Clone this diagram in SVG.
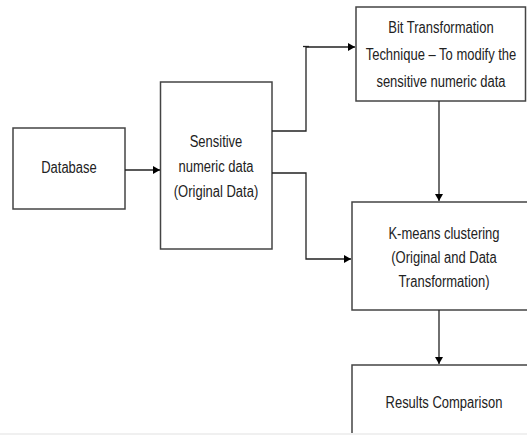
<svg xmlns="http://www.w3.org/2000/svg" width="527" height="435" viewBox="0 0 527 435">
<defs>
<marker id="ah" markerWidth="8" markerHeight="8" refX="7" refY="4" orient="auto" markerUnits="userSpaceOnUse">
<path d="M0,0 L7,4 L0,8 Z" fill="#000"/>
</marker>
</defs>
<style>
.box{fill:#fff;stroke:#444;stroke-width:1.5}
.t{font-family:"Liberation Sans",Arial,sans-serif;font-size:13px;fill:#222;text-anchor:middle}
.c{fill:none;stroke:#222;stroke-width:1.3}
</style>
<rect width="527" height="435" fill="#fff"/>
<g id="database">
<rect class="box" x="13" y="128" width="112" height="81"/>
<text class="t" x="69" y="173" transform="translate(0,173) scale(1,1.2) translate(0,-173)">Database</text>
</g>
<g id="sensitive">
<rect class="box" x="160.5" y="82" width="111.5" height="167"/>
<text class="t" x="216" y="147" transform="translate(0,147) scale(1,1.2) translate(0,-147)">Sensitive</text>
<text class="t" x="216" y="172" transform="translate(0,172) scale(1,1.2) translate(0,-172)">numeric data</text>
<text class="t" x="216" y="197" transform="translate(0,197) scale(1,1.2) translate(0,-197)">(Original Data)</text>
</g>
<g id="bit">
<rect class="box" x="356" y="7" width="169.5" height="94"/>
<text class="t" x="441" y="33" transform="translate(0,33) scale(1,1.2) translate(0,-33)">Bit Transformation</text>
<text class="t" x="441" y="60" transform="translate(0,60) scale(1,1.2) translate(0,-60)">Technique – To modify the</text>
<text class="t" x="441" y="87" transform="translate(0,87) scale(1,1.2) translate(0,-87)">sensitive numeric data</text>
</g>
<g id="kmeans">
<rect class="box" x="352" y="202" width="180" height="108"/>
<text class="t" x="444" y="239" transform="translate(0,239) scale(1,1.2) translate(0,-239)">K-means clustering</text>
<text class="t" x="444" y="263" transform="translate(0,263) scale(1,1.2) translate(0,-263)">(Original and Data</text>
<text class="t" x="444" y="287" transform="translate(0,287) scale(1,1.2) translate(0,-287)">Transformation)</text>
</g>
<g id="results">
<rect class="box" x="352" y="365" width="180" height="80"/>
<text class="t" x="444" y="408" transform="translate(0,408) scale(1,1.2) translate(0,-408)">Results Comparison</text>
</g>
<g id="connectors">
<path class="c" d="M125,170 H160" marker-end="url(#ah)"/>
<path class="c" d="M272,131 H306 V47 H355" marker-end="url(#ah)"/>
<path class="c" d="M303,46.5 H309" stroke-width="2"/>
<path class="c" d="M272,173 H306 V259 H351" marker-end="url(#ah)"/>
<path class="c" d="M439,101 V201" marker-end="url(#ah)"/>
<path class="c" d="M439,310 V364" marker-end="url(#ah)"/>
</g>
<rect x="0" y="433" width="527" height="2" fill="#f0f0f0"/>
</svg>
